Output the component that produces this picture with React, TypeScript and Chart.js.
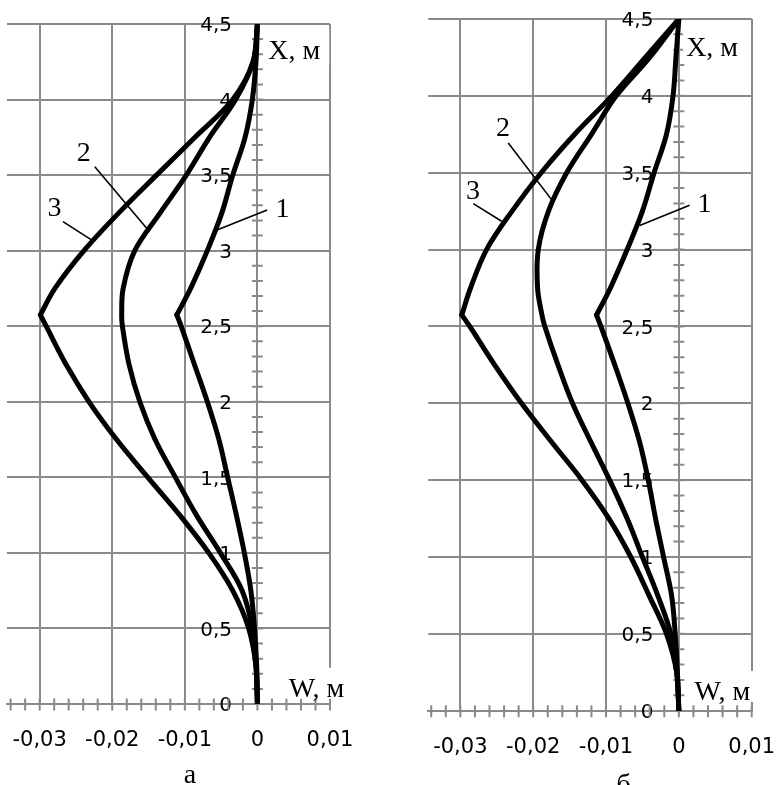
import React, { useEffect, useRef } from 'react';
import { Chart, registerables } from 'chart.js';

Chart.register(...registerables);

// Height along the element, X (m) — common sampling levels for every curve
const xLevels = [0, 0.25, 0.5, 0.75, 1, 1.25, 1.5, 1.75, 2, 2.25, 2.5, 2.575, 2.75, 3, 3.25, 3.5, 3.75, 4, 4.25, 4.5];
const vertexIndex = 11; // X = 2.575 m, kink of curves 1 and 3

// Panel "а": deflection W (m) of curves 1, 2, 3
const wA1 = [0, -0.0001, -0.0004, -0.0009, -0.0018, -0.0029, -0.0041, -0.0053, -0.0069, -0.0087, -0.0105, -0.0111, -0.0092, -0.0069, -0.0049, -0.0034, -0.0017, -0.0007, -0.0002, 0];
const wA2 = [0, -0.0002, -0.0007, -0.0021, -0.0051, -0.0084, -0.0113, -0.0141, -0.0162, -0.0177, -0.0186, -0.0187, -0.0185, -0.0169, -0.0134, -0.0098, -0.0066, -0.003, -0.0006, 0];
const wA3 = [0, -0.0002, -0.0012, -0.0034, -0.0067, -0.0107, -0.0151, -0.0194, -0.0232, -0.0264, -0.0291, -0.0299, -0.0279, -0.0239, -0.0191, -0.0139, -0.0086, -0.0034, -0.0006, 0];

// Panel "б": deflection W (m) of curves 1, 2, 3
const wB1 = [0, -0.0002, -0.0005, -0.001, -0.0021, -0.0032, -0.0042, -0.0054, -0.007, -0.0088, -0.0107, -0.0113, -0.0094, -0.0071, -0.005, -0.0034, -0.0017, -0.0008, -0.0004, 0];
const wB2 = [0, -0.0003, -0.0011, -0.0029, -0.005, -0.0071, -0.0095, -0.0121, -0.0146, -0.0166, -0.0184, -0.0188, -0.0194, -0.0193, -0.0179, -0.0154, -0.012, -0.0086, -0.004, 0];
const wB3 = [0, -0.0003, -0.0017, -0.0041, -0.0066, -0.0096, -0.0133, -0.0175, -0.0216, -0.0253, -0.0287, -0.0298, -0.0286, -0.0264, -0.0229, -0.0189, -0.0143, -0.0092, -0.0046, 0];

// Tick values
const wTicks = [-0.03, -0.02, -0.01, 0, 0.01];
const xTicks = [0, 0.5, 1, 1.5, 2, 2.5, 3, 3.5, 4, 4.5];
const wMinorStep = 0.002;
const xMinorStep = 0.1;

const curveNames = ['1', '2', '3'];

const GRID = '#8a8a8a';
const TICK_FONT = 'DejaVu Sans';
const SERIF = '"Liberation Serif", "Times New Roman", serif';

const fmt = (v: number) => {
  const r = Math.round(v * 10000) / 10000;
  return r === 0 ? '0' : String(r).replace('.', ',');
};

type Callout = { t: string; w: number; x: number; line: number[] };

const panels = [
  {
    key: 'a',
    left: 0,
    wMin: -0.0345,
    padding: { left: 7, top: 24, right: 59, bottom: 81 },
    series: [wA1, wA2, wA3],
    letter: { t: 'а', w: -0.0093, x: -0.523 },
    xTitle: { w: 0.0015, x: 4.267 },
    wTitle: { w: 0.0043, x: 0.048 },
    callouts: [
      { t: '1', w: 0.00346, x: 3.276, line: [0.00134, 3.269, -0.00557, 3.137] },
      { t: '2', w: -0.02393, x: 3.647, line: [-0.0224, 3.556, -0.01526, 3.148] },
      { t: '3', w: -0.02794, x: 3.283, line: [-0.02679, 3.192, -0.02286, 3.071] },
    ] as Callout[],
  },
  {
    key: 'b',
    left: 389,
    wMin: -0.0344,
    padding: { left: 39.3, top: 19, right: 26.3, bottom: 74.3 },
    series: [wB1, wB2, wB3],
    letter: { t: 'б', w: -0.0076, x: -0.536 },
    xTitle: { w: 0.001, x: 4.258 },
    wTitle: { w: 0.00215, x: 0.07 },
    callouts: [
      { t: '1', w: 0.00352, x: 3.299, line: [0.00147, 3.288, -0.00538, 3.156] },
      { t: '2', w: -0.02415, x: 3.794, line: [-0.02342, 3.694, -0.01748, 3.325] },
      { t: '3', w: -0.02826, x: 3.384, line: [-0.02822, 3.299, -0.02433, 3.184] },
    ] as Callout[],
  },
];

type PanelCfg = typeof panels[number];

function buildDatasets(series: number[][]) {
  const ds: any[] = [];
  series.forEach((w, si) => {
    const pts = xLevels.map((x, i) => ({ x: w[i], y: x }));
    const parts = si === 1 ? [pts] : [pts.slice(0, vertexIndex + 1), pts.slice(vertexIndex)];
    parts.forEach((p) => {
      ds.push({
        label: curveNames[si],
        data: p,
        showLine: true,
        borderColor: '#000',
        borderWidth: 5,
        pointRadius: 0,
        tension: 0.35,
        fill: false,
        borderCapStyle: 'round',
        borderJoinStyle: 'round',
      });
    });
  });
  return ds;
}

function makeDecor(cfg: PanelCfg) {
  return {
    id: 'decor' + cfg.key,
    beforeDatasetsDraw(chart: any) {
      const { ctx } = chart;
      const xs = chart.scales.x;
      const ys = chart.scales.y;
      const x0 = xs.getPixelForValue(0);
      const y0 = ys.getPixelForValue(0);
      ctx.save();
      ctx.strokeStyle = GRID;
      ctx.lineWidth = 2;
      ctx.beginPath();
      const nY = Math.round(4.5 / xMinorStep);
      for (let k = 1; k <= nY; k++) {
        const py = ys.getPixelForValue(k * xMinorStep);
        ctx.moveTo(x0 - 5.5, py);
        ctx.lineTo(x0 + 5.5, py);
      }
      const kMin = Math.ceil(cfg.wMin / wMinorStep - 1e-9);
      const kMax = Math.floor(0.01 / wMinorStep + 1e-9);
      for (let k = kMin; k <= kMax; k++) {
        const px = xs.getPixelForValue(k * wMinorStep);
        ctx.moveTo(px, y0 - 5.5);
        ctx.lineTo(px, y0 + 6.5);
      }
      ctx.stroke();
      ctx.restore();
    },
    afterDatasetsDraw(chart: any) {
      const { ctx } = chart;
      const xs = chart.scales.x;
      const ys = chart.scales.y;
      const px = (w: number) => xs.getPixelForValue(w);
      const py = (x: number) => ys.getPixelForValue(x);
      ctx.save();
      // callouts
      ctx.fillStyle = '#000';
      ctx.strokeStyle = '#000';
      ctx.lineWidth = 1.6;
      ctx.font = `28px ${SERIF}`;
      ctx.textAlign = 'center';
      ctx.textBaseline = 'middle';
      cfg.callouts.forEach((c) => {
        ctx.beginPath();
        ctx.moveTo(px(c.line[0]), py(c.line[1]));
        ctx.lineTo(px(c.line[2]), py(c.line[3]));
        ctx.stroke();
        ctx.fillText(c.t, px(c.w), py(c.x) + 1);
      });
      // axis titles with white boxes
      ctx.textAlign = 'left';
      ctx.textBaseline = 'alphabetic';
      const titles = [
        { t: 'X, м', p: cfg.xTitle, top: 31, bottom: 6 },
        { t: 'W, м', p: cfg.wTitle, top: 29, bottom: 2 },
      ];
      titles.forEach((tt) => {
        const lx = px(tt.p.w);
        const by = py(tt.p.x);
        const wdt = ctx.measureText(tt.t).width;
        ctx.fillStyle = '#fff';
        ctx.fillRect(lx - 3, by - tt.top, wdt + 12, tt.top + tt.bottom);
        ctx.fillStyle = '#000';
        ctx.fillText(tt.t, lx, by);
      });
      // panel letter
      ctx.textAlign = 'center';
      ctx.fillText(cfg.letter.t, px(cfg.letter.w), py(cfg.letter.x));
      ctx.restore();
    },
  };
}

function Panel({ cfg }: { cfg: PanelCfg }) {
  const ref = useRef<HTMLCanvasElement>(null);
  useEffect(() => {
    const setTicks = (vals: number[]) => (s: any) => {
      s.ticks = vals.map((v) => ({ value: v }));
    };
    const chart = new Chart(ref.current as HTMLCanvasElement, {
      type: 'scatter',
      data: { datasets: buildDatasets(cfg.series) },
      options: {
        animation: false,
        responsive: false,
        maintainAspectRatio: false,
        layout: { padding: cfg.padding },
        plugins: { legend: { display: false }, tooltip: { enabled: false } },
        scales: {
          x: {
            type: 'linear',
            position: { y: 0 } as any,
            min: cfg.wMin,
            max: 0.01,
            afterBuildTicks: setTicks(wTicks),
            grid: { color: GRID, lineWidth: 2, drawTicks: true, tickLength: 24, tickColor: 'rgba(0,0,0,0)' },
            border: { display: true, color: GRID, width: 2 },
            ticks: {
              padding: 0,
              color: '#000',
              font: { family: TICK_FONT, size: 21 },
              maxRotation: 0,
              autoSkip: false,
              callback: (v: any) => fmt(Number(v)),
            },
          },
          y: {
            type: 'linear',
            position: { x: 0 } as any,
            min: 0,
            max: 4.5,
            afterBuildTicks: setTicks(xTicks),
            grid: { color: GRID, lineWidth: 2, drawTicks: false },
            border: { display: true, color: GRID, width: 2 },
            ticks: { display: false },
          },
          yl: {
            type: 'linear',
            axis: 'y',
            position: { x: -0.0035 } as any,
            min: 0,
            max: 4.5,
            afterBuildTicks: setTicks(xTicks),
            grid: { display: false, drawTicks: false },
            border: { display: false },
            ticks: {
              padding: 0,
              labelOffset: 2,
              color: '#000',
              font: { family: TICK_FONT, size: 20 },
              autoSkip: false,
              callback: (v: any) => fmt(Number(v)),
            },
          },
        },
      } as any,
      plugins: [makeDecor(cfg)],
    });
    return () => chart.destroy();
  }, [cfg]);
  return (
    <canvas
      ref={ref}
      width={389}
      height={785}
      style={{ position: 'absolute', left: cfg.left, top: 0, width: 389, height: 785 }}
    />
  );
}

export default function App() {
  return (
    <div style={{ position: 'absolute', left: 0, top: 0, width: 778, height: 785, background: '#fff', overflow: 'hidden' }}>
      {panels.map((p) => (
        <Panel key={p.key} cfg={p} />
      ))}
    </div>
  );
}
